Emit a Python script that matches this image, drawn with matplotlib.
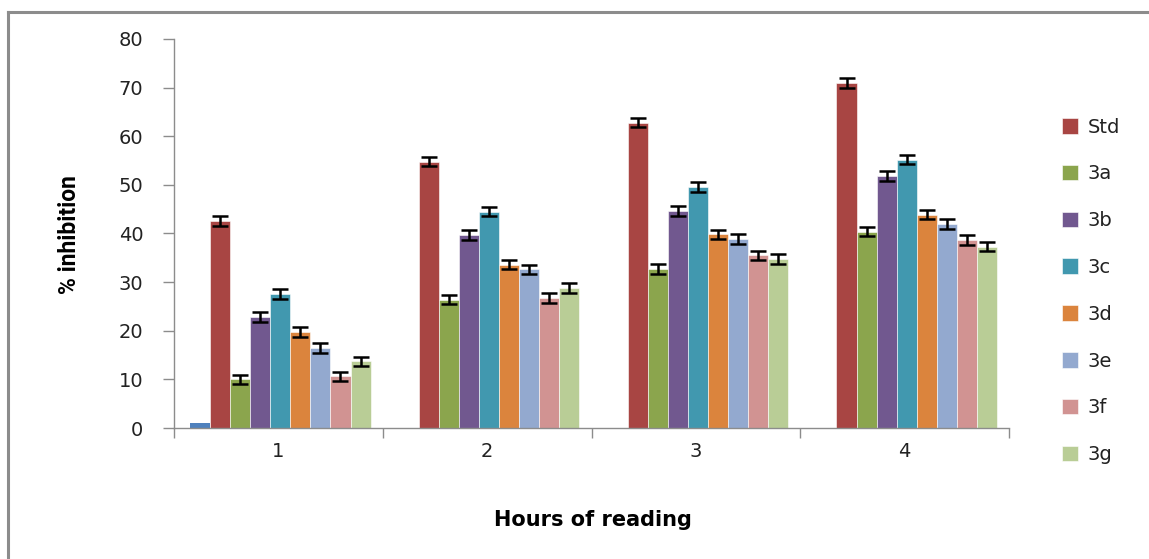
# Clustered bar chart: % inhibition vs hours of reading
import numpy as np
import matplotlib
matplotlib.use("Agg")
import matplotlib.pyplot as plt
from matplotlib.lines import Line2D

# Data
hours = ['1', '2', '3', '4']
series_names = ['Std', '3a', '3b', '3c', '3d', '3e', '3f', '3g']
hour_series = [1, 0, 0, 0]   # stray blue series (no legend entry)
std = [42.5, 54.8, 62.8, 70.9]
s3a = [10.0, 26.4, 32.7, 40.4]
s3b = [22.8, 39.7, 44.6, 51.8]
s3c = [27.5, 44.5, 49.5, 55.2]
s3d = [19.8, 33.6, 39.8, 43.9]
s3e = [16.5, 32.6, 38.8, 41.9]
s3f = [10.6, 26.7, 35.5, 38.6]
s3g = [13.7, 28.8, 34.7, 37.3]
err = [1.0, 1.0, 1.0, 1.0]

values = [std, s3a, s3b, s3c, s3d, s3e, s3f, s3g]
colors = ['#A84543', '#8BA54D', '#71588F', '#4198AF',
          '#DB843D', '#93A9CF', '#D19392', '#B9CD96']

fig = plt.figure(figsize=(11.49, 5.59), dpi=100)
fig.patch.set_facecolor('white')

# outer chart frame (cut off at right and bottom like the reference)
fig.add_artist(Line2D([8/1149, 8/1149], [0, 1 - 12/559], color='#8C8C8C', lw=2.2,
                      transform=fig.transFigure))
fig.add_artist(Line2D([8/1149, 1], [1 - 12/559, 1 - 12/559], color='#8C8C8C', lw=2.2,
                      transform=fig.transFigure))

ax = fig.add_axes([174/1149, 1 - 428/559, (1009 - 174)/1149, (428 - 39)/559])

x = np.arange(len(hours))
w = 0.096

ax.bar(x - 3.9*w, hour_series, w, color='#4F81BD', linewidth=0)
for i, (name, vals, c) in enumerate(zip(series_names, values, colors)):
    ax.bar(x + (i - 2.9)*w, vals, w, color=c, label=name,
           edgecolor='white', linewidth=0.4,
           yerr=err, error_kw=dict(ecolor='black', elinewidth=1.8,
                                   capsize=5.5, capthick=1.8))

ax.set_xlim(-0.5, 3.5)
ax.set_ylim(0, 80)
ax.set_yticks(range(0, 81, 10))
ax.set_xticks(x)
ax.set_xticklabels(hours)
ax.set_xticks(np.arange(-0.5, 4, 1), minor=True)
ax.tick_params(axis='x', which='major', length=0, pad=10,
               labelsize=14, labelcolor='#222222')
ax.tick_params(axis='x', which='minor', length=7, width=1, color='#8C8C8C',
               direction='out')
ax.tick_params(axis='y', length=8, width=1, color='#8C8C8C', pad=14,
               labelsize=14, labelcolor='#222222')
for lab in ax.get_xticklabels() + ax.get_yticklabels():
    lab.set_family('DejaVu Sans')

for side in ['top', 'right']:
    ax.spines[side].set_visible(False)
for side in ['left', 'bottom']:
    ax.spines[side].set_color('#8C8C8C')
    ax.spines[side].set_linewidth(1)

fig.text(593/1149, 1 - 520/559, 'Hours of reading', ha='center', va='center',
         fontsize=15, fontweight='bold', family=['DejaVu Sans'])
fig.text(70/1149, 1 - 235/559, '% inhibition', ha='center', va='center',
         rotation=90, fontsize=16.5, fontweight='bold',
         family=['Roboto', 'DejaVu Sans'])

leg = ax.legend(loc='upper left', bbox_to_anchor=(1044/1149, 1 - 100/559),
                bbox_transform=fig.transFigure, frameon=False,
                prop={'family': 'DejaVu Sans', 'size': 14},
                handlelength=0.85, handleheight=0.85, handletextpad=0.5,
                labelspacing=1.43)
for t in leg.get_texts():
    t.set_color('#222222')

fig.savefig('out.png', dpi=100, facecolor='white')
